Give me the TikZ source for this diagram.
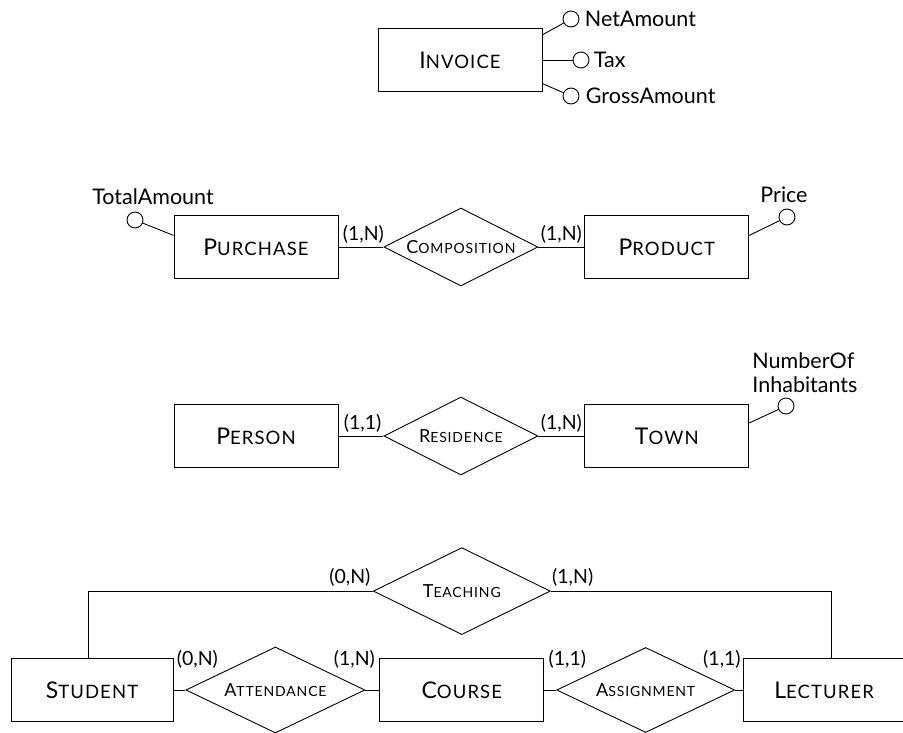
\documentclass[tikz,border=0pt]{standalone}
\usepackage{fontspec}
\setmainfont{Lato}
\usetikzlibrary{positioning,shapes.geometric,calc}
\tikzset{every picture/.style={line width=0.9pt}}

% fake small caps: big initial, spaced capitals after it
\newcommand{\entname}[2]{{\fontsize{23}{23}\selectfont #1}{\fontsize{18.5}{19}\selectfont\addfontfeature{LetterSpace=6}#2}}
\newcommand{\relname}[2]{{\fontsize{18}{18}\selectfont #1}{\fontsize{14}{14}\selectfont\addfontfeature{LetterSpace=6}#2}}

\tikzset{
    entity/.style={draw, rectangle, minimum width=164pt, minimum height=63pt, inner sep=0pt},
    relship/.style={draw, diamond, aspect=2, minimum width=154pt, minimum height=78pt, inner sep=0pt},
    attr/.style={draw, circle, minimum size=16pt, inner sep=0pt},
    card/.style={inner sep=1pt, font=\fontsize{19.5}{21}\selectfont},
    every label/.style={inner sep=1pt, font=\fontsize{21.5}{24}\selectfont}
}

\begin{document}
\begin{tikzpicture}[x=1pt, y=1pt]
    \useasboundingbox (0,0) rectangle (903,-733);

    % invoice
    \node[entity] (invoice) at (460,-60) {\entname{I}{NVOICE}};
    \node[attr, label={[label distance=4pt]right:NetAmount}] (netamount) at (571,-19) {};
    \node[attr, label={[label distance=3pt]right:Tax}] (tax) at (581,-60) {};
    \node[attr, label={[label distance=5pt]right:GrossAmount}] (grossamount) at (571,-96) {};
    \draw (invoice.17) -- (netamount);
    \draw (invoice) -- (tax);
    \draw (invoice.-16) -- (grossamount);

    % purchase -- composition -- product
    \node[entity] (purchase) at (256,-247) {\entname{P}{URCHASE}};
    \node[relship, right=45pt of purchase] (composition) {\relname{C}{OMPOSITION}};
    \node[entity, right=46pt of composition] (product) {\entname{P}{RODUCT}};
    \node[attr, label={[xshift=18pt, yshift=5pt]above:TotalAmount}] (totalamount) at (135,-220) {};
    \node[attr, label={[xshift=-3pt, yshift=4pt]above:Price}] (price) at (787,-217) {};
    \draw (purchase.172) -- (totalamount);
    \draw (product.8) -- (price);
    \draw (purchase) -- (composition) -- (product);
    \node[card, above right=2pt and 3pt of purchase.east] (cpur) {(1,N)};
    \node[card, above left=2pt and 1pt of product.west] (cprod) {(1,N)};

    % person -- residence -- town
    \node[entity] (person) at (256,-436) {\entname{P}{ERSON}};
    \node[relship, right=45pt of person] (residence) {\relname{R}{ESIDENCE}};
    \node[entity, right=46pt of residence] (town) {\entname{T}{OWN}};
    \node[attr, label={[align=left, anchor=south west, xshift=-35pt, yshift=3pt]above:NumberOf\\Inhabitants}] (inhabitants) at (786,-406) {};
    \draw (town.9) -- (inhabitants);
    \draw (person) -- (residence) -- (town);
    \node[card, above right=2pt and 4pt of person.east] (cper) {(1,1)};
    \node[card, above left=2pt and 1pt of town.west] (ctown) {(1,N)};

    % student -- attendance -- course -- assignment -- lecturer
    \node[entity, minimum width=162pt] (student) at (92,-690) {\entname{S}{TUDENT}};
    \node[relship, minimum width=179pt, minimum height=86pt, right=12pt of student] (attendance) {\relname{A}{TTENDANCE}};
    \node[entity, right=14pt of attendance] (course) {\entname{C}{OURSE}};
    \node[relship, minimum width=178pt, minimum height=85pt, right=12pt of course] (assignment) {\relname{A}{SSIGNMENT}};
    \node[entity, minimum width=161pt, right=8pt of assignment] (lecturer) {\entname{L}{ECTURER}};
    \node[relship, minimum width=177pt, minimum height=87pt, above=23pt of course] (teaching) {\relname{T}{EACHING}};
    \draw (student) -- (attendance) -- (course) -- (assignment) -- (lecturer);
    \draw ([xshift=-4pt]student.north) |- (teaching.west);
    \draw (teaching.east) -| ([xshift=7pt]lecturer.north);
    \node[card, above right=20pt and 2pt of student.east] (cstu) {(0,N)};
    \node[card, above left=20pt and 3pt of course.west] (ccou) {(1,N)};
    \node[card, above right=20pt and 3pt of course.east] (ccou2) {(1,1)};
    \node[card, above left=20pt and 1pt of lecturer.west] (clec) {(1,1)};
    \node[card, above left=3pt and 1pt of teaching.west] (cteach) {(0,N)};
    \node[card, above right=3pt and 0pt of teaching.east] (cteach2) {(1,N)};
\end{tikzpicture}
\end{document}
